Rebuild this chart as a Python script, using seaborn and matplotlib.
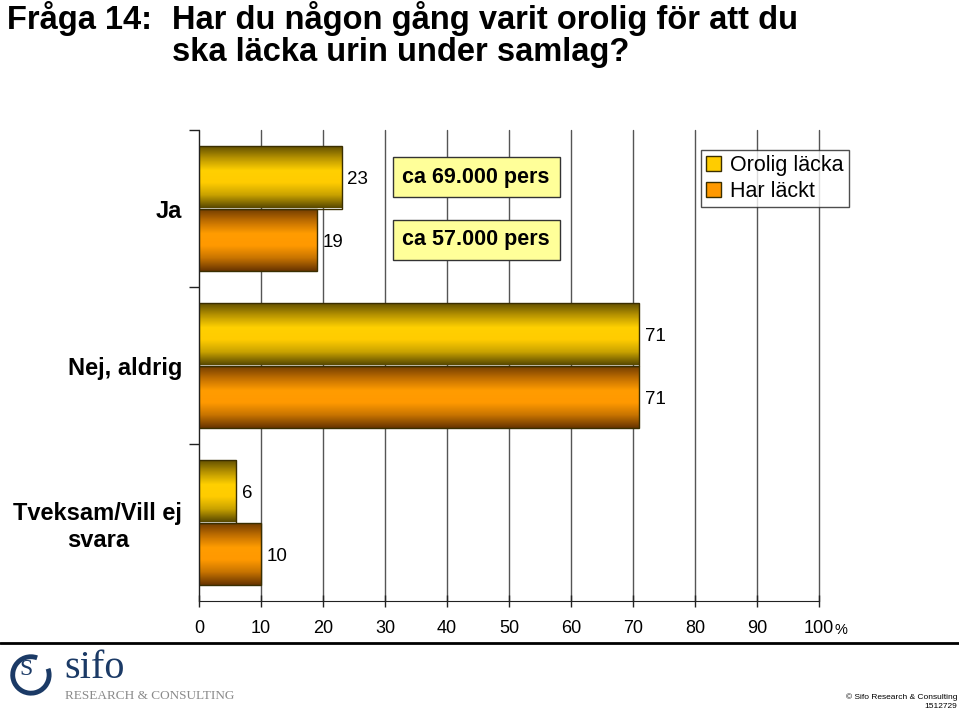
import numpy as np
import pandas as pd
import matplotlib
matplotlib.use('Agg')
import matplotlib.pyplot as plt
import seaborn as sns
from matplotlib.colors import LinearSegmentedColormap
from matplotlib.patches import Patch, Arc
from matplotlib.lines import Line2D

# data
categories = ['Ja', 'Nej, aldrig', 'Tveksam/Vill ej\nsvara']
series = ['Orolig läcka', 'Har läckt']
orolig = [23, 71, 6]
lackt = [19, 71, 10]
counts = ['ca 69.000 pers', 'ca 57.000 pers']
xticks = list(range(0, 101, 10))

df = pd.DataFrame({
    'kategori': categories * 2,
    'andel': orolig + lackt,
    'serie': [series[0]] * 3 + [series[1]] * 3,
})

sns.set_style('white')
plt.rcParams['font.family'] = ['Liberation Sans', 'DejaVu Sans']
plt.rcParams['text.color'] = 'black'
plt.rcParams['xtick.color'] = 'black'
plt.rcParams['ytick.color'] = 'black'
plt.rcParams['axes.labelcolor'] = 'black'

W, H = 959, 711
fig = plt.figure(figsize=(W / 100, H / 100), dpi=100)
ax = fig.add_axes([199 / W, 1 - 601 / H, 620 / W, 471 / H])

sns.barplot(data=df, x='andel', y='kategori', hue='serie', orient='h',
            width=0.8, palette=['#ffcc00', '#ff9900'], saturation=1,
            edgecolor='#3a2e00', linewidth=1, legend=False, ax=ax)

# cylinder style shading on each bar
gold = LinearSegmentedColormap.from_list('gold', ['#5e4c00', '#b89400', '#ffd000', '#ffcc00', '#c9a200', '#5a4a00'])
orange = LinearSegmentedColormap.from_list('orange', ['#6e3a00', '#c06e00', '#ff9c00', '#ff9900', '#c87400', '#6a3600'])
grad = np.linspace(0, 1, 64).reshape(-1, 1)
for i, p in enumerate(ax.patches):
    cmap = gold if i < len(categories) else orange
    x0, y0, w, h = p.get_x(), p.get_y(), p.get_width(), p.get_height()
    im = ax.imshow(grad, cmap=cmap, aspect='auto', origin='upper',
                   extent=(x0, x0 + w, y0 + h, y0), zorder=1)
    im.set_clip_path(p)
    p.set_facecolor('none')
    p.set_zorder(1.2)
    ax.annotate(f'{int(round(w))}', (x0 + w, y0 + h / 2), xytext=(4, -2),
                textcoords='offset points', ha='left', va='center', fontsize=13.5)

# number of persons boxes next to the Ja bars
ja_bars = [ax.patches[0], ax.patches[len(categories)]]
for txt, p in zip(counts, ja_bars):
    ax.text(44.7, p.get_y() + p.get_height() / 2, txt, ha='center', va='center',
            fontsize=15.5, fontweight='bold', zorder=3,
            bbox=dict(boxstyle='square,pad=0.45', facecolor='#ffff99', edgecolor='#333333', linewidth=1))

ax.set_xlim(0, 100)
ax.set_ylim(2.5, -0.5)
ax.set_xticks(xticks)
ax.set_xticklabels([str(t) for t in xticks], fontsize=13)
ax.set_yticks(range(len(categories)))
ax.set_yticklabels(categories, fontsize=17, fontweight='bold')
for lab in ax.get_yticklabels():
    lab.set_multialignment('center')
ax.set_yticks([-0.5, 0.5, 1.5], minor=True)
ax.tick_params(axis='y', which='major', length=0, pad=12)
ax.tick_params(axis='y', which='minor', length=7, width=1, color='#222222', left=True)
ax.tick_params(axis='x', direction='inout', length=8, width=1, color='#222222', pad=10, bottom=True)
ax.set_xlabel('')
ax.set_ylabel('')
ax.set_axisbelow(True)
ax.xaxis.grid(True, color='#555555', linewidth=1)
for gl in ax.get_xgridlines():
    gl.set_clip_on(False)
ax.yaxis.grid(False)
for s in ['top', 'right']:
    ax.spines[s].set_visible(False)
ax.spines['left'].set_color('#222222')
ax.spines['bottom'].set_color('#222222')
ax.annotate('%', (100, 0), xycoords=ax.get_xaxis_transform(), xytext=(11, -21),
            textcoords='offset points', ha='left', va='center', fontsize=10.5)

# legend
handles = [Patch(facecolor='#ffcc00', edgecolor='#3a2e00'), Patch(facecolor='#ff9900', edgecolor='#3a2e00')]
fig.legend(handles, series, loc='upper left', bbox_to_anchor=(701 / W, 1 - 150 / H),
           frameon=True, fancybox=False, edgecolor='#222222', fontsize=15.5,
           handlelength=0.7, handleheight=0.7, handletextpad=0.4, borderpad=0.25,
           labelspacing=0.2, borderaxespad=0)

# title
fig.text(7 / W, 1 - 1 / H, 'Fråga 14:', fontsize=23.5, fontweight='bold', ha='left', va='top')
fig.text(172 / W, 1 - 1 / H, 'Har du någon gång varit orolig för att du\nska läcka urin under samlag?',
         fontsize=23.5, fontweight='bold', ha='left', va='top', linespacing=1.05)

# footer
fig.add_artist(Line2D([0, 1], [1 - 643 / H, 1 - 643 / H], color='black', linewidth=2, transform=fig.transFigure))
fig.text(64 / W, 1 - 668 / H, 'sifo', fontsize=29, family='Liberation Serif', color='#1b3a66', ha='left', va='center')
fig.text(65 / W, 1 - 696 / H, 'RESEARCH & CONSULTING', fontsize=9.5, family='Liberation Serif', color='#8a8a8a', ha='left', va='center')
lax = fig.add_axes([6 / W, 1 - 698 / H, 46 / W, 48 / H])
lax.set_xlim(-1.2, 1.2)
lax.set_ylim(-1.2, 1.2)
lax.set_aspect('equal')
lax.axis('off')
lax.add_patch(Arc((0.1, -0.05), 1.9, 1.9, theta1=70, theta2=380, linewidth=3.5, color='#1b3a66'))
lax.text(-0.15, 0.25, 'S', fontsize=17, family='Liberation Serif', color='#1b3a66', ha='center', va='center')
fig.text(957 / W, 1 - 697 / H, '© Sifo Research & Consulting', fontsize=6, ha='right', va='center')
fig.text(957 / W, 1 - 706 / H, '1512729', fontsize=6, ha='right', va='center')

fig.savefig('out.png', dpi=100)
